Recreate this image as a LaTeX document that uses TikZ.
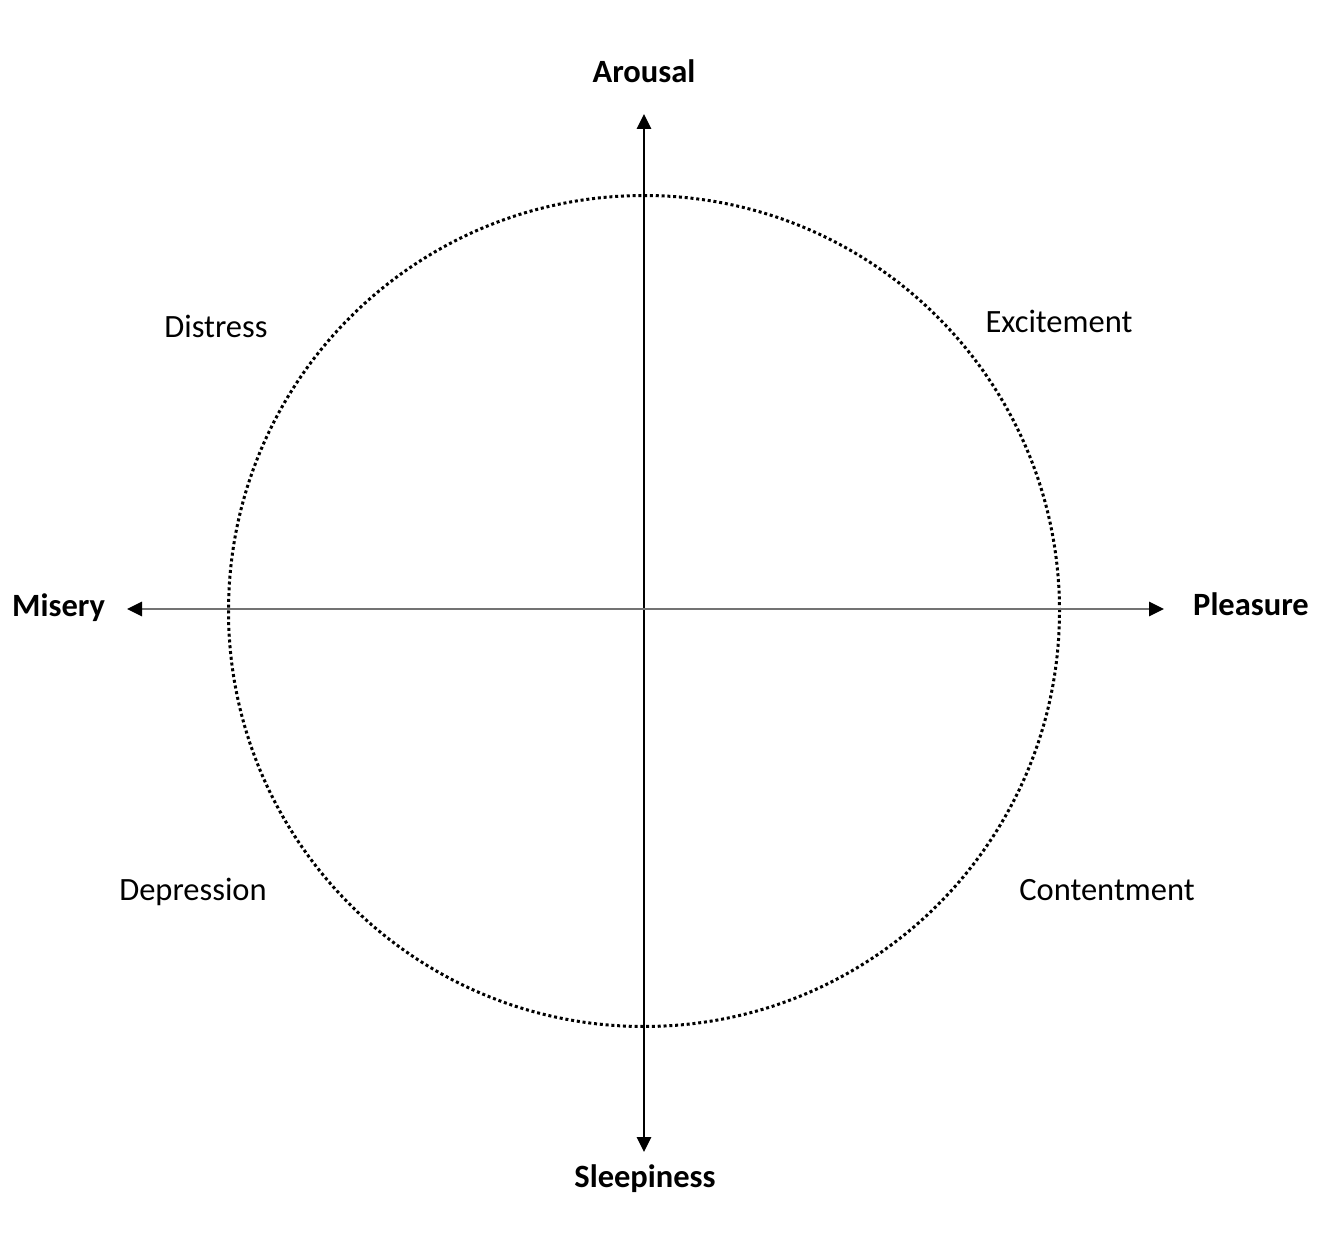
\documentclass[tikz,border=0pt]{standalone}
\usepackage{fontspec}
\setmainfont{Carlito}
\usetikzlibrary{arrows.meta}
\begin{document}
\begin{tikzpicture}[x=1pt,y=-1pt,
  axislabel/.style={font=\fontsize{32.5}{39}\selectfont\bfseries, inner sep=0pt},
  quadlabel/.style={font=\fontsize{32.5}{39}\selectfont, inner sep=0pt, anchor=base},
  tip/.style={Triangle[width=14.5pt,length=15pt,color=black]},
  axis/.style={line width=1.4pt, {Triangle[width=14.5pt,length=15pt,color=black]}-{Triangle[width=14.5pt,length=15pt,color=black]}},
  ring/.style={line width=3pt, dash pattern=on 3pt off 2.8pt}]
  \useasboundingbox (0,0) rectangle (1334,1236);

  % centre of the plane and the ends of the two axes
  \coordinate (o) at (644,611);
  \coordinate (top) at (644,114);
  \coordinate (bottom) at (644,1152);
  \coordinate (left) at (127,609);
  \coordinate (right) at (1164,609);

  % dotted circumplex ring
  \draw[ring] (o) circle[radius=415.5pt];

  % axes
  \draw[axis, black] (bottom) -- (top);
  \draw[axis, black!55] (left) -- (right);

  % axis labels
  \node[axislabel, anchor=base] (arousal) at (644,83) {Arousal};
  \node[axislabel, anchor=base] (sleepiness) at (645,1187) {Sleepiness};
  \node[axislabel, anchor=base west] (misery) at (12,616) {Misery};
  \node[axislabel, anchor=base west] (pleasure) at (1193,615) {Pleasure};

  % quadrant labels
  \node[quadlabel] (distress) at (216,337) {Distress};
  \node[quadlabel] (excitement) at (1059,332) {Excitement};
  \node[quadlabel] (depression) at (193,900) {Depression};
  \node[quadlabel] (contentment) at (1107,900) {Contentment};
\end{tikzpicture}
\end{document}
